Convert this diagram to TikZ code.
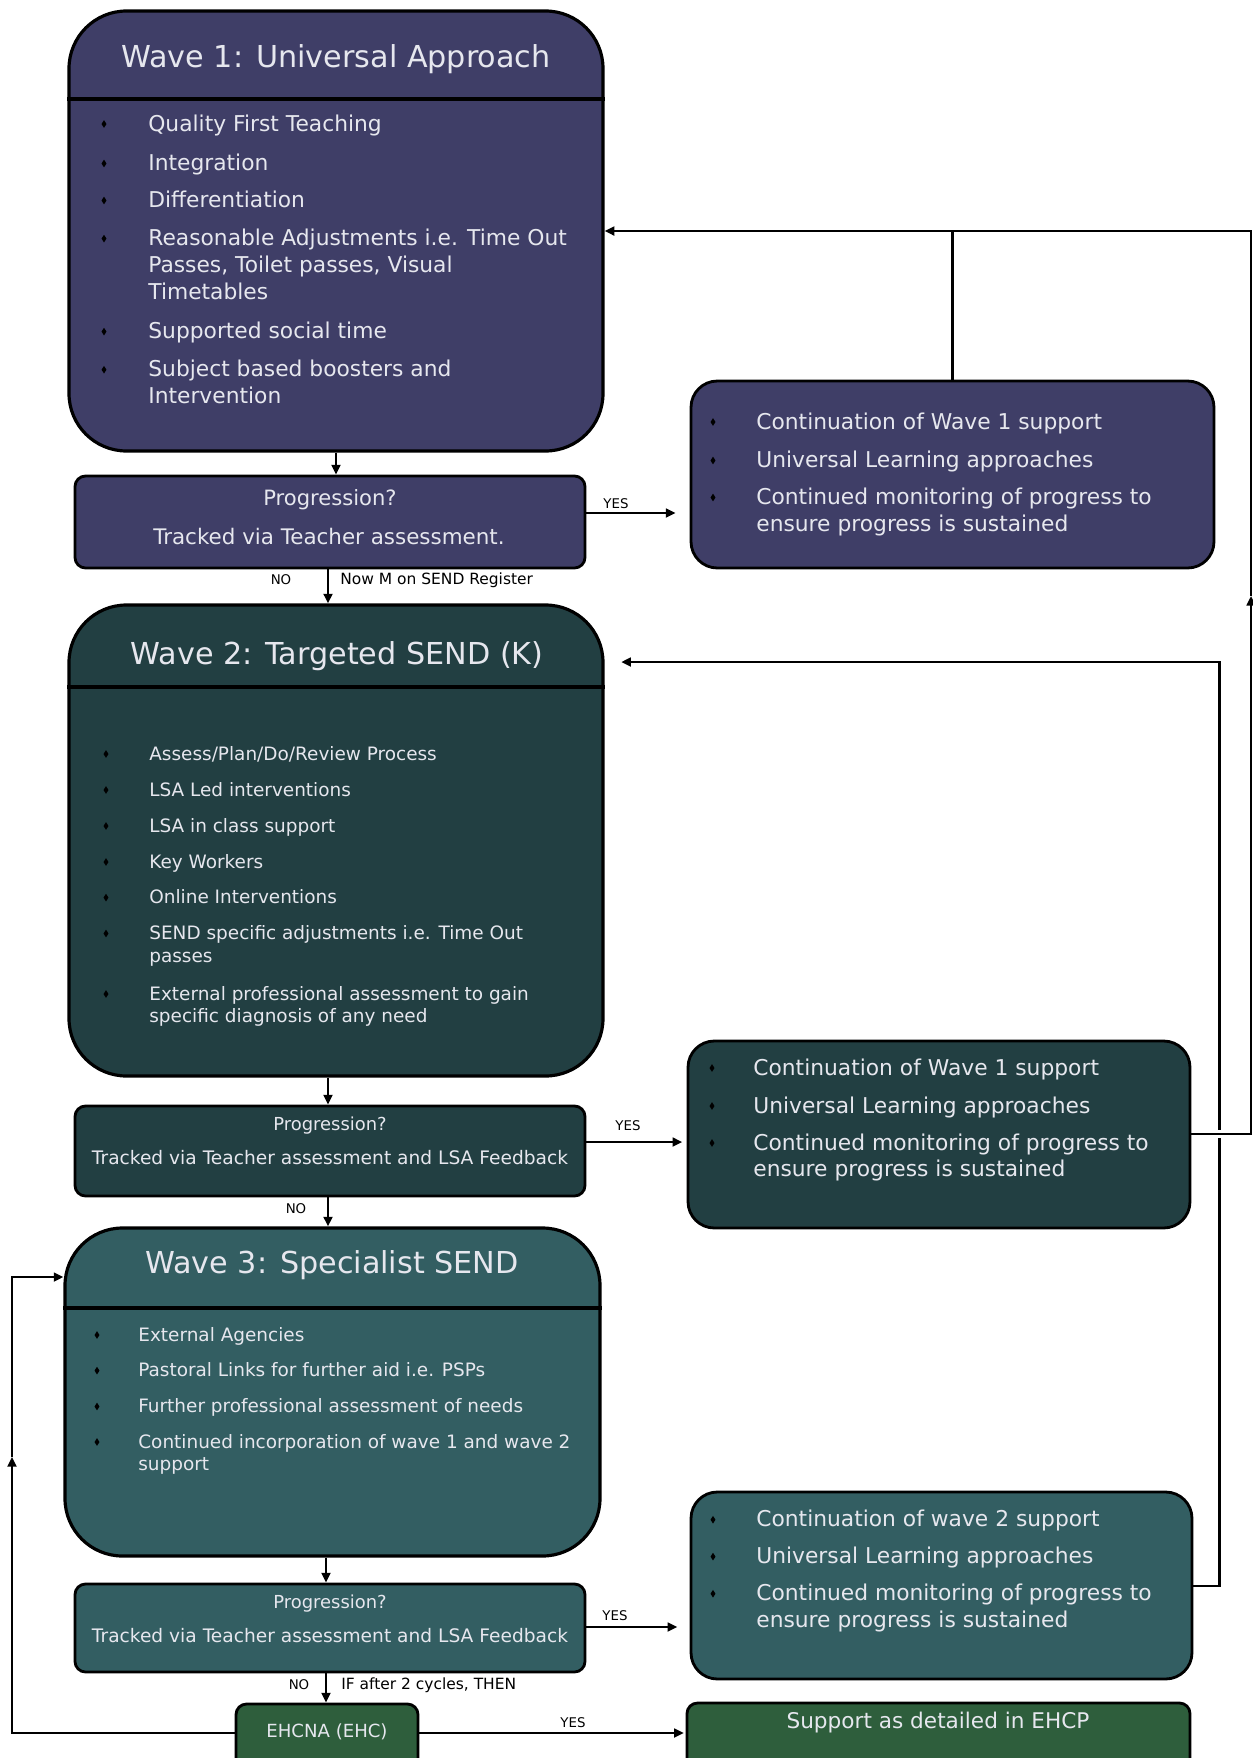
\documentclass[tikz,border=0pt]{standalone}
\usepackage{fontspec}
\setmainfont{DejaVu Sans}
\usetikzlibrary{arrows.meta,shapes.geometric,fit}
\definecolor{waveone}{HTML}{3F3E67}
\definecolor{wavetwo}{HTML}{223F42}
\definecolor{wavethree}{HTML}{335E62}
\definecolor{ehcgreen}{HTML}{2E5E3C}
\definecolor{paletext}{HTML}{E6E7EE}
\tikzset{
  wavebox/.style={draw, line width=1.8pt, rounded corners=1.15cm, fill=#1, inner sep=0pt},
  progbox/.style={draw, line width=1.6pt, rounded corners=6pt, fill=#1, inner sep=0pt},
  contbox/.style={draw, line width=1.6pt, rounded corners=15pt, fill=#1, inner sep=0pt},
  wavetitle/.style={text=paletext, font=\fontsize{17.2}{20}\selectfont},
  bigitem/.style={text=paletext, align=left, anchor=base west, inner sep=0pt, font=\fontsize{12.4}{15.2}\selectfont},
  smallitem/.style={text=paletext, align=left, anchor=base west, inner sep=0pt, font=\fontsize{10.5}{12.8}\selectfont},
  boxtext/.style={text=paletext, font=\fontsize{#1}{#1}\selectfont},
  bullet/.style={diamond, fill=black, inner sep=0pt, minimum width=3pt, minimum height=4.5pt},
  lbl/.style={font=\fontsize{#1}{9}\selectfont, inner sep=0pt},
  lbl/.default=7.6,
  link/.style={line width=1.3pt},
}
\begin{document}
\begin{tikzpicture}[x=0.02cm, y=-0.02cm, >={Triangle[length=5.5pt,width=5pt]}]
\useasboundingbox (0,0) rectangle (1253,1758);
\clip (0,0) rectangle (1253,1758);

% wave 1
\node (w1) [wavebox=waveone, fit={(69,11) (603,451)}] {};
\draw[line width=1.8pt] (w1.west |- 0,99) -- (w1.east |- 0,99);
\node (w1t) [wavetitle] at (336,59) {Wave 1: Universal Approach};
\foreach \y/\k/\t [count=\n] in {131/0/{Quality First Teaching}, 170.5/0/{Integration}, 207.5/0/{Differentiation},
  245.6/2/{Reasonable Adjustments i.e. Time Out\\Passes, Toilet passes, Visual\\Timetables},
  338.6/0/{Supported social time}, 376.7/1/{Subject based boosters and\\Intervention}} {
  \node (w1b\n) [bullet] at (104,\y-7) {};
  \node (w1i\n) [bigitem] at (148,\y+\k*26.7) {\t};
}
\node (p1) [progbox=waveone, fit={(75,476) (585,568)}] {};
\node (p1a) [boxtext=12] at (330,500) {Progression?};
\node (p1b) [boxtext=12.2] at (329,536) {Tracked via Teacher assessment.};
\node (c1) [contbox=waveone, fit={(691,381) (1214,568)}] {};
\foreach \y/\k/\t [count=\n] in {429/0/{Continuation of Wave 1 support}, 467.5/0/{Universal Learning approaches},
  504.5/1/{Continued monitoring of progress to\\ensure progress is sustained}} {
  \node (c1b\n) [bullet] at (713,\y-7) {};
  \node (c1i\n) [bigitem] at (756,\y+\k*26.7) {\t};
}

% wave 2
\node (w2) [wavebox=wavetwo, fit={(69,605) (603,1076)}] {};
\draw[line width=1.8pt] (w2.west |- 0,687) -- (w2.east |- 0,687);
\node (w2t) [wavetitle] at (337,656) {Wave 2: Targeted SEND (K)};
\foreach \y/\k/\t [count=\n] in {760/0/{Assess/Plan/Do/Review Process}, 796/0/{LSA Led interventions},
  832/0/{LSA in class support}, 868/0/{Key Workers}, 903.6/0/{Online Interventions},
  939.5/1/{SEND specific adjustments i.e. Time Out\\passes},
  1000/1/{External professional assessment to gain\\specific diagnosis of any need}} {
  \node (w2b\n) [bullet] at (106,\y-6) {};
  \node (w2i\n) [smallitem] at (149,\y+\k*22.5) {\t};
}
\node (p2) [progbox=wavetwo, fit={(75,1106) (585,1196)}] {};
\node (p2a) [boxtext=10.2] at (330,1126) {Progression?};
\node (p2b) [boxtext=10.6] at (330,1158) {Tracked via Teacher assessment and LSA Feedback};
\node (c2) [contbox=wavetwo, fit={(688,1041) (1190,1228)}] {};
\foreach \y/\k/\t [count=\n] in {1075/0/{Continuation of Wave 1 support}, 1113/0/{Universal Learning approaches},
  1150/1/{Continued monitoring of progress to\\ensure progress is sustained}} {
  \node (c2b\n) [bullet] at (712,\y-7) {};
  \node (c2i\n) [bigitem] at (753,\y+\k*26.7) {\t};
}

% wave 3
\node (w3) [wavebox=wavethree, fit={(65,1228) (600,1556)}] {};
\draw[line width=1.8pt] (w3.west |- 0,1308) -- (w3.east |- 0,1308);
\node (w3t) [wavetitle] at (332,1265) {Wave 3: Specialist SEND};
\foreach \y/\k/\t [count=\n] in {1341/0/{External Agencies}, 1376.6/0/{Pastoral Links for further aid i.e. PSPs},
  1412.5/0/{Further professional assessment of needs},
  1448/1/{Continued incorporation of wave 1 and wave 2\\support}} {
  \node (w3b\n) [bullet] at (97,\y-6) {};
  \node (w3i\n) [smallitem] at (138,\y+\k*22.5) {\t};
}
\node (p3) [progbox=wavethree, fit={(75,1584) (585,1672)}] {};
\node (p3a) [boxtext=10.2] at (330,1604) {Progression?};
\node (p3b) [boxtext=10.6] at (330,1636) {Tracked via Teacher assessment and LSA Feedback};
\node (c3) [contbox=wavethree, fit={(691,1492) (1192,1679)}] {};
\foreach \y/\k/\t [count=\n] in {1526.7/0/{Continuation of wave 2 support}, 1563.6/0/{Universal Learning approaches},
  1600.7/1/{Continued monitoring of progress to\\ensure progress is sustained}} {
  \node (c3b\n) [bullet] at (713,\y-7) {};
  \node (c3i\n) [bigitem] at (756,\y+\k*26.7) {\t};
}

% EHC
\node (ehc) [progbox=ehcgreen, fit={(236,1704) (418,1800)}] {};
\node (ehct) [boxtext=10.3] at (327,1732) {EHCNA (EHC)};
\node (ehcp) [progbox=ehcgreen, fit={(687,1703) (1190,1800)}] {};
\node (ehcpt) [boxtext=12.3] at (938,1723) {Support as detailed in EHCP};

% connectors
\draw[link, ->] (w1.south) -- (w1.south |- p1.north);
\draw[link, ->] (p1.south -| 328,0) -- (w2.north -| 328,0);
\node (no1) [lbl] at (281,580) {NO};
\node (reg) [lbl=8.8, anchor=west] at (340,580) {Now M on SEND Register};
\draw[link, ->, shorten >=8pt] (p1.east |- 0,513) -- (c1.west |- 0,513);
\node (yes1) [lbl] at (616,504) {YES};
\draw[link] (c1.north) -- (c1.north |- 0,231);

\draw[link, ->] (w2.south -| 328,0) -- (p2.north -| 328,0);
\draw[link, ->] (p2.south -| 328,0) -- (w3.north -| 328,0);
\node (no2) [lbl] at (296,1209) {NO};
\draw[link, ->, shorten >=2.5pt] (p2.east |- 0,1142) -- (c2.west |- 0,1142);
\node (yes2) [lbl] at (628,1126) {YES};

\draw[link, ->] (w3.south -| 326,0) -- (p3.north -| 326,0);
\draw[link, ->, shorten >=7pt] (p3.east |- 0,1627) -- (c3.west |- 0,1627);
\node (yes3) [lbl] at (615,1616) {YES};
\draw[link, ->] (p3.south -| 326,0) -- (ehc.north -| 326,0);
\node (no3) [lbl] at (299,1685) {NO};
\node (cyc) [lbl=8.8, anchor=west] at (341,1685) {IF after 2 cycles, THEN};
\draw[link, ->, shorten >=1pt] (ehc.east |- 0,1733) -- (ehcp.west |- 0,1733);
\node (yes4) [lbl] at (573,1723) {YES};

% feedback loops
\draw[link, ->, shorten >=9.5pt] (c3.east |- 0,1586) -| (1219.5,662) -- (w2.east |- 0,662);
\coordinate (mid1) at (1251,596);
\draw[link, ->, preaction={draw=white, line width=5pt, shorten <=4pt, -}] (c2.east |- 0,1134) -| (mid1);
\draw[link, ->] (mid1) |- (w1.east |- 0,231);
\coordinate (mid2) at (12,1457);
\draw[link, ->] (ehc.west |- 0,1733) -| (mid2);
\draw[link, ->] (mid2) |- (w3.west |- 0,1277);
\end{tikzpicture}
\end{document}
